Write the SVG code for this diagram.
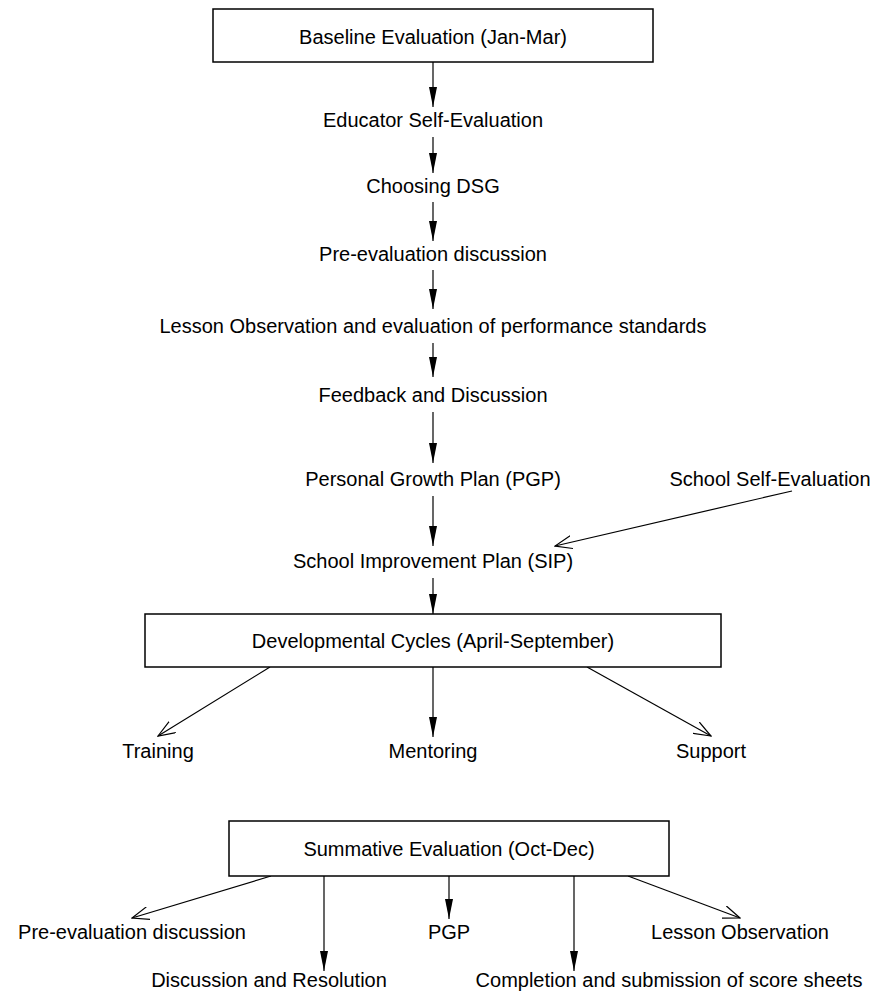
<svg xmlns="http://www.w3.org/2000/svg" width="885" height="998" viewBox="0 0 885 998">
<style>
text{font-family:"Liberation Sans",Arial,sans-serif;font-size:20px;fill:#000;text-anchor:middle}
.box{fill:#fff;stroke:#000;stroke-width:1.5}
.c{stroke:#000;stroke-width:1.2;fill:none}
.f{marker-end:url(#fill)}
.o{marker-end:url(#open)}
</style>
<defs>
<marker id="fill" markerUnits="userSpaceOnUse" viewBox="0 0 20 8" refX="20" refY="4" markerWidth="20" markerHeight="8" orient="auto">
<path d="M0,0 L20,4 L0,8 Z" fill="#000"/>
</marker>
<marker id="open" markerUnits="userSpaceOnUse" viewBox="0 0 18 14" refX="17" refY="7" markerWidth="18" markerHeight="14" orient="auto">
<path d="M0,0.5 L17,7 L0,13.5" fill="none" stroke="#000" stroke-width="1.2"/>
</marker>
</defs>
<rect width="885" height="998" fill="#fff"/>
<g id="connectors">
<line class="c f" x1="433" y1="62" x2="433" y2="107"/>
<line class="c f" x1="433" y1="137" x2="433" y2="173"/>
<line class="c f" x1="433" y1="202" x2="433" y2="241"/>
<line class="c f" x1="433" y1="270" x2="433" y2="309"/>
<line class="c f" x1="433" y1="343" x2="433" y2="377"/>
<line class="c f" x1="433" y1="412" x2="433" y2="463"/>
<line class="c f" x1="433" y1="496" x2="433" y2="546"/>
<line class="c o" x1="792" y1="491" x2="555" y2="546"/>
<line class="c f" x1="433" y1="578" x2="433" y2="614"/>
<line class="c o" x1="270" y1="667" x2="158" y2="736"/>
<line class="c f" x1="433" y1="667" x2="433" y2="737"/>
<line class="c o" x1="587" y1="667" x2="711" y2="736"/>
<line class="c o" x1="271" y1="876" x2="132" y2="918"/>
<line class="c f" x1="324" y1="876" x2="324" y2="971"/>
<line class="c f" x1="449" y1="876" x2="449" y2="919"/>
<line class="c f" x1="574" y1="876" x2="574" y2="971"/>
<line class="c o" x1="628" y1="876" x2="740" y2="918"/>
</g>
<g id="baseline"><rect class="box" x="213" y="9" width="440" height="53"/><text x="433" y="44">Baseline Evaluation (Jan-Mar)</text></g>
<g id="educator"><text x="433" y="127">Educator Self-Evaluation</text></g>
<g id="dsg"><text x="433" y="193">Choosing DSG</text></g>
<g id="pre1"><text x="433" y="261">Pre-evaluation discussion</text></g>
<g id="lesson1"><text x="433" y="333">Lesson Observation and evaluation of performance standards</text></g>
<g id="feedback"><text x="433" y="402">Feedback and Discussion</text></g>
<g id="pgp1"><text x="433" y="486">Personal Growth Plan (PGP)</text></g>
<g id="sse"><text x="770" y="486">School Self-Evaluation</text></g>
<g id="sip"><text x="433" y="568">School Improvement Plan (SIP)</text></g>
<g id="dev"><rect class="box" x="145" y="614" width="576" height="53"/><text x="433" y="648">Developmental Cycles (April-September)</text></g>
<g id="training"><text x="158" y="758">Training</text></g>
<g id="mentoring"><text x="433" y="758">Mentoring</text></g>
<g id="support"><text x="711" y="758">Support</text></g>
<g id="summ"><rect class="box" x="229" y="821" width="440" height="55"/><text x="449" y="856">Summative Evaluation (Oct-Dec)</text></g>
<g id="pre2"><text x="132" y="939">Pre-evaluation discussion</text></g>
<g id="pgp2"><text x="449" y="939">PGP</text></g>
<g id="lesson2"><text x="740" y="939">Lesson Observation</text></g>
<g id="disc"><text x="269" y="987">Discussion and Resolution</text></g>
<g id="comp"><text x="669" y="987">Completion and submission of score sheets</text></g>
</svg>
